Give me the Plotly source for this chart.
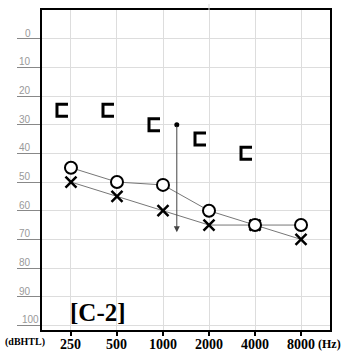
import plotly.graph_objects as go

freq_labels = ["250", "500", "1000", "2000", "4000", "8000"]
freq_pos = [0, 1, 2, 3, 4, 5]
air_o = [45, 50, 51, 60, 65, 65]
air_x = [50, 55, 60, 65, 65, 70]
bone_bracket = [25, 25, 30, 35, 40]
bone_pos = [0, 1, 2, 3, 4]
arrow_pos = 2.3
arrow_top = 30
arrow_bottom = 67.5
y_ticks = [0, 10, 20, 30, 40, 50, 60, 70, 80, 90, 100]
panel_label = "[C-2]"

fig = go.Figure()

fig.add_trace(go.Scatter(
    x=freq_pos, y=air_x, mode="lines+markers",
    line=dict(color="#777777", width=1),
    marker=dict(symbol="x-thin-open", size=11, color="black", line=dict(width=2.5, color="black")),
    showlegend=False, hoverinfo="skip"))
fig.add_trace(go.Scatter(
    x=freq_pos, y=air_o, mode="lines+markers",
    line=dict(color="#777777", width=1),
    marker=dict(symbol="circle", size=12, color="white", line=dict(width=2, color="black")),
    showlegend=False, hoverinfo="skip"))

shapes = []
for p, v in zip(bone_pos, bone_bracket):
    shapes.append(dict(type="path", xref="x", yref="y", xsizemode="pixel", ysizemode="pixel",
                       xanchor=p, yanchor=v,
                       path="M -3,6 L -14,6 L -14,-6 L -3,-6",
                       line=dict(color="black", width=3)))
# stray grid line above the frame
shapes.append(dict(type="line", xref="x", yref="paper", x0=3, x1=3, y0=1, y1=1 + 6 / 320,
                   line=dict(color="#dddddd", width=1)))
fig.update_layout(shapes=shapes)

# arrow
fig.add_trace(go.Scatter(x=[arrow_pos], y=[arrow_top], mode="markers",
                         marker=dict(size=5, color="black"), showlegend=False, hoverinfo="skip"))
fig.add_annotation(x=arrow_pos, y=arrow_bottom, ax=arrow_pos, ay=arrow_top, axref="x", ayref="y",
                   xref="x", yref="y", showarrow=True, arrowhead=2, arrowsize=1.2, arrowwidth=1,
                   arrowcolor="#444444", text="")

# y tick labels above grid lines
for v in y_ticks:
    if v == 100:
        fig.add_annotation(x=(20 - 42) / 288, y=v, xref="paper", yref="y", xanchor="left",
                           yanchor="bottom", yshift=-2, text=str(v), showarrow=False,
                           font=dict(family="Liberation Sans", size=10, color="#999999"))
    else:
        fig.add_annotation(x=(33 - 42) / 288, y=v, xref="paper", yref="y", xanchor="right",
                           yanchor="bottom", yshift=-2, text=str(v), showarrow=False,
                           font=dict(family="Liberation Sans", size=10, color="#999999"))

# x tick labels
for p, lab in zip(freq_pos, freq_labels):
    fig.add_annotation(x=p, y=-14 / 320, xref="x", yref="paper", xanchor="center",
                       yanchor="middle", text=lab, showarrow=False,
                       font=dict(family="Liberation Serif", size=14, color="black", weight="bold"))

fig.add_annotation(x=(3 - 42) / 288, y=-12 / 320, xref="paper", yref="paper", xanchor="left",
                   yanchor="middle", text="(dBHTL)", showarrow=False,
                   font=dict(family="Liberation Serif", size=10, color="black", weight="bold"))
fig.add_annotation(x=(316 - 42) / 288, y=-14 / 320, xref="paper", yref="paper", xanchor="left",
                   yanchor="middle", text="(Hz)", showarrow=False,
                   font=dict(family="Liberation Serif", size=12, color="black", weight="bold"))
fig.add_annotation(x=(68 - 42) / 288, y=(330 - 312) / 320, xref="paper", yref="paper",
                   xanchor="left", yanchor="middle", text=panel_label, showarrow=False,
                   font=dict(family="Liberation Serif", size=25, color="black", weight="bold"))

fig.update_xaxes(range=[-0.63, 5.63], tickvals=freq_pos, showticklabels=False,
                 ticks="outside", ticklen=4, tickwidth=2, tickcolor="black",
                 showgrid=True, gridcolor="#dddddd", gridwidth=1, zeroline=False,
                 showline=True, linecolor="black", linewidth=2, mirror=True, automargin=False)
fig.update_yaxes(range=[101.6, -10], tickvals=y_ticks, showticklabels=False,
                 ticks="outside", ticklen=23, tickwidth=1, tickcolor="#888888", automargin=False,
                 showgrid=True, gridcolor="#dddddd", gridwidth=1, zeroline=False,
                 showline=True, linecolor="black", linewidth=2, mirror=True)

fig.update_layout(width=348, height=353, margin=dict(l=42, r=18, t=10, b=23),
                  paper_bgcolor="white", plot_bgcolor="white")

fig.write_html("out.html")
